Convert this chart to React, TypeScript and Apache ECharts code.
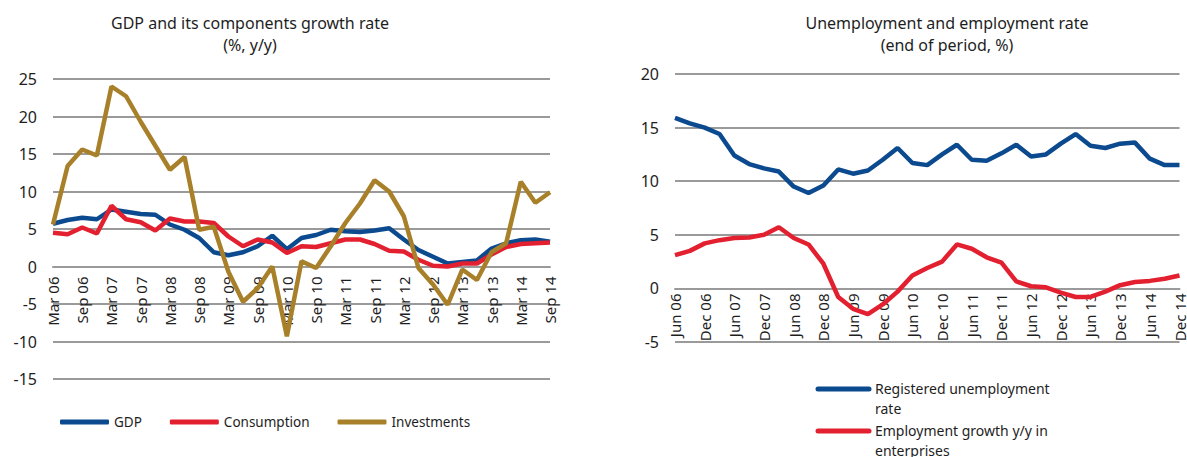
import React, { useEffect, useRef } from "react";
import * as echarts from "echarts";

const gdpCategories = [
  "Mar 06", "Jun 06", "Sep 06", "Dec 06", "Mar 07", "Jun 07", "Sep 07", "Dec 07",
  "Mar 08", "Jun 08", "Sep 08", "Dec 08", "Mar 09", "Jun 09", "Sep 09", "Dec 09",
  "Mar 10", "Jun 10", "Sep 10", "Dec 10", "Mar 11", "Jun 11", "Sep 11", "Dec 11",
  "Mar 12", "Jun 12", "Sep 12", "Dec 12", "Mar 13", "Jun 13", "Sep 13", "Dec 13",
  "Mar 14", "Jun 14", "Sep 14",
];
const gdp = [
  5.7, 6.2, 6.5, 6.3, 7.6, 7.3, 7.0, 6.9, 5.6, 4.9, 3.8, 1.9, 1.5, 1.9, 2.7, 4.1,
  2.3, 3.8, 4.2, 4.9, 4.7, 4.6, 4.8, 5.1, 3.6, 2.2, 1.3, 0.4, 0.6, 0.8, 2.4, 3.1,
  3.5, 3.6, 3.3,
];
const consumption = [
  4.5, 4.3, 5.2, 4.4, 8.1, 6.3, 5.9, 4.8, 6.4, 6.0, 6.0, 5.8, 4.0, 2.7, 3.6, 3.2,
  1.8, 2.7, 2.6, 3.1, 3.6, 3.6, 3.0, 2.1, 2.0, 0.9, 0.1, 0.0, 0.4, 0.4, 1.6, 2.6,
  3.0, 3.1, 3.2,
];
const investments = [
  5.6, 13.4, 15.6, 14.8, 24.0, 22.7, 19.3, 16.1, 12.9, 14.6, 4.9, 5.3, -0.7, -4.7,
  -2.9, 0.0, -9.3, 0.7, -0.2, 2.7, 5.8, 8.4, 11.5, 10.0, 6.7, -0.2, -2.4, -5.1,
  -0.4, -1.8, 1.9, 3.1, 11.3, 8.5, 9.9,
];

const labourCategories = [
  "Jun 06", "Sep 06", "Dec 06", "Mar 07", "Jun 07", "Sep 07", "Dec 07", "Mar 08",
  "Jun 08", "Sep 08", "Dec 08", "Mar 09", "Jun 09", "Sep 09", "Dec 09", "Mar 10",
  "Jun 10", "Sep 10", "Dec 10", "Mar 11", "Jun 11", "Sep 11", "Dec 11", "Mar 12",
  "Jun 12", "Sep 12", "Dec 12", "Mar 13", "Jun 13", "Sep 13", "Dec 13", "Mar 14",
  "Jun 14", "Sep 14", "Dec 14",
];
const unemployment = [
  15.9, 15.4, 15.0, 14.4, 12.4, 11.6, 11.2, 10.9, 9.5, 8.9, 9.6, 11.1, 10.7, 11.0,
  12.0, 13.1, 11.7, 11.5, 12.5, 13.4, 12.0, 11.9, 12.6, 13.4, 12.3, 12.5, 13.5,
  14.4, 13.3, 13.1, 13.5, 13.6, 12.1, 11.5, 11.5,
];
const employment = [
  3.1, 3.5, 4.2, 4.5, 4.7, 4.75, 5.0, 5.7, 4.7, 4.1, 2.3, -0.8, -1.9, -2.4, -1.5,
  -0.3, 1.2, 1.9, 2.5, 4.1, 3.7, 2.9, 2.4, 0.65, 0.2, 0.1, -0.4, -0.8, -0.8, -0.3,
  0.3, 0.6, 0.7, 0.9, 1.2,
];

const leftTitle = ["GDP and its components growth rate", "(%, y/y)"];
const rightTitle = ["Unemployment and employment rate", "(end of period, %)"];
const rightLegend = [
  ["Registered unemployment", "rate"],
  ["Employment growth y/y in", "enterprises"],
];

const BLUE = "#0b4a8e";
const RED = "#e3202f";
const GOLD = "#a8802a";
const GRID = "#9a9a9a";
const TEXT = "#1e1e1e";
const FONT = "'Noto Sans', sans-serif";

export default function App() {
  const ref = useRef<HTMLDivElement>(null);

  useEffect(() => {
    document.body.style.margin = "0";
    if (!ref.current) return;
    const chart = echarts.init(ref.current, undefined, { renderer: "svg" });

    const yAxisCommon = {
      type: "value" as const,
      interval: 5,
      axisLine: { show: false },
      axisTick: { show: false },
      splitLine: { show: true, lineStyle: { color: GRID, width: 2 } },
      axisLabel: { color: TEXT, fontSize: 16, fontFamily: FONT, margin: 16 },
    };
    // offset moves the category axis up from the grid bottom to the zero line
    const xAxisCommon = (cats: string[], margin: number, offset: number) => ({
      type: "category" as const,
      data: cats,
      boundaryGap: false,
      offset,
      axisLine: { show: true, onZero: false, lineStyle: { color: GRID, width: 2 } },
      axisTick: { show: false },
      splitLine: { show: false },
      axisLabel: {
        rotate: 90,
        interval: 1,
        color: TEXT,
        fontSize: 15,
        fontFamily: FONT,
        margin,
      },
    });
    const lineSeries = (name: string, data: number[], color: string, x: number) => ({
      name,
      type: "line" as const,
      data,
      xAxisIndex: x,
      yAxisIndex: x,
      symbol: "none",
      showSymbol: false,
      lineStyle: { color, width: 4.5 },
      itemStyle: { color },
      emphasis: { disabled: true },
    });

    const graphics: any[] = [
      {
        type: "text",
        x: 250,
        y: 12,
        style: {
          text: leftTitle.join("\n"),
          textAlign: "center",
          fill: TEXT,
          font: `16px ${FONT}`,
          lineHeight: 22,
        },
      },
      {
        type: "text",
        x: 947,
        y: 12,
        style: {
          text: rightTitle.join("\n"),
          textAlign: "center",
          fill: TEXT,
          font: `16px ${FONT}`,
          lineHeight: 22,
        },
      },
    ];
    const legendColors = [BLUE, RED];
    const legendY = [389, 431];
    rightLegend.forEach((lines, i) => {
      graphics.push({
        type: "line",
        shape: { x1: 818, y1: legendY[i], x2: 869, y2: legendY[i] },
        style: { stroke: legendColors[i], lineWidth: 5, lineCap: "round" },
      });
      graphics.push({
        type: "text",
        x: 875,
        y: legendY[i] - 11,
        style: {
          text: lines.join("\n"),
          fill: TEXT,
          font: `14px ${FONT}`,
          lineHeight: 20,
        },
      });
    });

    chart.setOption({
      animation: false,
      backgroundColor: "#ffffff",
      textStyle: { fontFamily: FONT },
      grid: [
        { left: 53, right: 637, top: 79, bottom: 78 },
        { left: 675, right: 2, top: 74, bottom: 115 },
      ],
      xAxis: [
        { ...xAxisCommon(gdpCategories, 10, -112.5), gridIndex: 0 },
        { ...xAxisCommon(labourCategories, 5, -53.5), gridIndex: 1 },
      ],
      yAxis: [
        { ...yAxisCommon, gridIndex: 0, min: -15, max: 25 },
        { ...yAxisCommon, gridIndex: 1, min: -5, max: 20 },
      ],
      legend: [
        {
          data: ["GDP", "Consumption", "Investments"],
          left: 60,
          top: 415,
          padding: 0,
          orient: "horizontal",
          icon: "roundRect",
          itemWidth: 49,
          itemHeight: 5,
          itemGap: 28,
          textStyle: { color: TEXT, fontSize: 13.5, fontFamily: FONT },
          selectedMode: false,
        },
      ],
      graphic: graphics,
      series: [
        lineSeries("GDP", gdp, BLUE, 0),
        lineSeries("Consumption", consumption, RED, 0),
        lineSeries("Investments", investments, GOLD, 0),
        lineSeries("Registered unemployment rate", unemployment, BLUE, 1),
        lineSeries("Employment growth y/y in enterprises", employment, RED, 1),
      ],
    });

    return () => chart.dispose();
  }, []);

  return <div ref={ref} style={{ width: 1187, height: 457 }} />;
}
